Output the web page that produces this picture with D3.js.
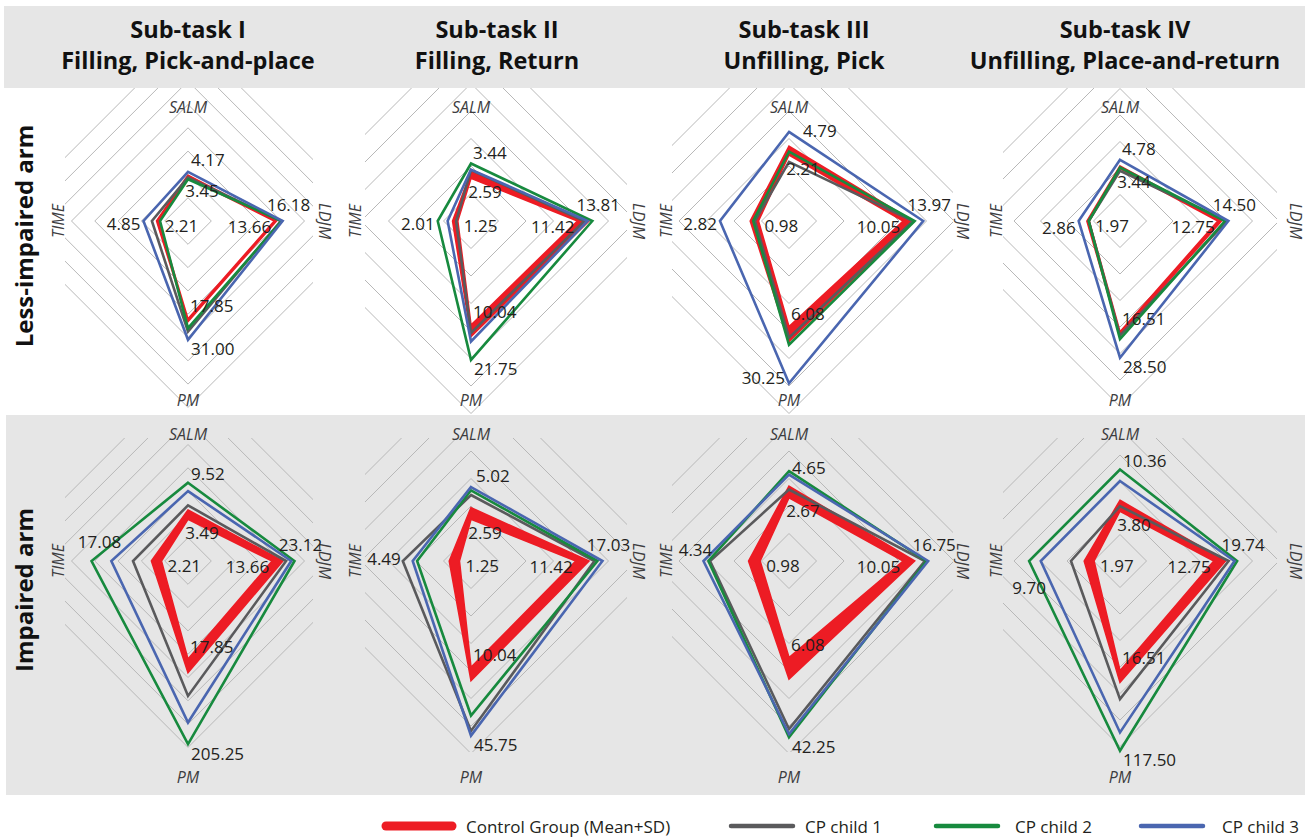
<!DOCTYPE html>
<html>
<head>
<meta charset="utf-8">
<script src="https://cdn.jsdelivr.net/npm/d3@7"></script>
<style>
  html, body { margin: 0; padding: 0; background: #fff; }
  svg { display: block; font-family: "Open Sans", "Noto Sans", sans-serif; }
</style>
</head>
<body>
<svg id="chart" width="1310" height="839"></svg>
<script>
// Axes of every radar, clockwise from the top
const AXES = ["SALM", "LDJM", "PM", "TIME"];

const SUBTASKS = [
    ["Sub-task I", "Filling, Pick-and-place"],
    ["Sub-task II", "Filling, Return"],
    ["Sub-task III", "Unfilling, Pick"],
    ["Sub-task IV", "Unfilling, Place-and-return"]
];
const ARMS = ["Less-impaired arm", "Impaired arm"];

// Normalised scores (grid rings) per panel, row-major:
// less-impaired I..IV, then impaired I..IV. Each row is [SALM, LDJM, PM, TIME].
const controlMean = [
    [1.86, 3.70, 4.20, 1.26],
    [1.55, 3.87, 3.78, 0.48],
    [2.40, 4.15, 3.84, 1.11],
    [1.98, 3.69, 4.18, 1.16],
    [1.79, 3.61, 4.21, 1.14],
    [1.52, 3.81, 3.87, 0.42],
    [2.30, 4.15, 3.51, 1.05],
    [1.88, 3.54, 4.14, 0.98]
];
const controlMeanSD = [
    [1.97, 3.80, 4.32, 1.35],
    [1.79, 4.29, 4.20, 0.67],
    [2.72, 4.51, 4.38, 1.41],
    [2.08, 3.83, 4.33, 1.25],
    [2.19, 4.07, 4.79, 1.57],
    [1.94, 4.29, 4.35, 0.79],
    [2.72, 4.57, 4.29, 1.47],
    [2.29, 3.98, 4.58, 1.35]
];
const cpChild1 = [
    [1.87, 3.98, 4.75, 1.55],
    [1.85, 4.12, 4.07, 0.54],
    [2.15, 4.51, 4.24, 1.24],
    [1.89, 4.03, 4.33, 1.18],
    [2.39, 4.21, 5.79, 2.36],
    [2.40, 4.49, 6.18, 2.48],
    [2.60, 4.94, 6.11, 2.87],
    [2.07, 4.10, 5.21, 1.85]
];
const cpChild2 = [
    [1.79, 4.02, 4.60, 1.20],
    [2.09, 4.41, 5.05, 1.21],
    [2.52, 4.57, 4.50, 1.30],
    [2.02, 3.96, 4.46, 1.18],
    [3.36, 4.57, 7.86, 4.14],
    [2.57, 4.60, 5.62, 1.96],
    [3.27, 5.00, 6.41, 2.93],
    [3.45, 4.42, 7.16, 3.43]
];
const cpChild3 = [
    [2.11, 4.06, 5.10, 1.91],
    [1.87, 4.24, 4.38, 0.85],
    [3.24, 4.88, 5.90, 2.51],
    [2.31, 4.09, 5.16, 1.56],
    [3.00, 4.43, 6.93, 3.29],
    [2.69, 4.78, 6.35, 2.12],
    [3.14, 5.06, 6.29, 3.11],
    [3.02, 4.32, 6.47, 2.99]
];

// Printed values: inner = control group value, outer = maximum
const innerLabels = [
    ["3.45", "13.66", "17.85", "2.21"],
    ["2.59", "11.42", "10.04", "1.25"],
    ["2.21", "10.05", "6.08", "0.98"],
    ["3.44", "12.75", "16.51", "1.97"],
    ["3.49", "13.66", "17.85", "2.21"],
    ["2.59", "11.42", "10.04", "1.25"],
    ["2.67", "10.05", "6.08", "0.98"],
    ["3.80", "12.75", "16.51", "1.97"]
];
const outerLabels = [
    ["4.17", "16.18", "31.00", "4.85"],
    ["3.44", "13.81", "21.75", "2.01"],
    ["4.79", "13.97", "30.25", "2.82"],
    ["4.78", "14.50", "28.50", "2.86"],
    ["9.52", "23.12", "205.25", "17.08"],
    ["5.02", "17.03", "45.75", "4.49"],
    ["4.65", "16.75", "42.25", "4.34"],
    ["10.36", "19.74", "117.50", "9.70"]
];

const LEGEND = ["Control Group (Mean+SD)", "CP child 1", "CP child 2", "CP child 3"];

// ---- layout ----
const RED = "#ed1c24";
const CP_SERIES = [
    { values: cpChild1, color: "#5a5a5c" },
    { values: cpChild2, color: "#178a3e" },
    { values: cpChild3, color: "#4a66b0" }
];
const COL_X = [188, 471, 789, 1120];
const ROW_Y = [221, 561];
const RING_STEP = [23.3, 27.5, 27.5, 26.5];
const RING_COUNT = [8, 7, 7, 7];
const COL_CLIP = [[65, 313], [365, 627], [672, 953], [1003, 1277]];
const ROW_CLIP = [[88, 414], [438, 752]];
const TIME_DX = [-130, -116, -123, -124];
const LDJM_DX = [137, 168, 174, 176];
const SALM_DY = [-114, -127];
const PM_DY = [179, 216];
const TITLE_X = [188, 497, 804, 1125];
const SALM_OUTER_DX = [3, 2, 14, 2, 3, 5, 3, 3];
const SALM_OUTER_DY = [-12, -11, -1, -11, -9, -12, -4, -9];
const PM_OUTER_SIDE = ["right", "right", "left", "right", "right", "right", "right", "right"];
// [anchor, dx from vertex, dy from centre] for the outer TIME label
const TIME_OUTER = [
    ["end", -3, 2], ["end", -3, 2], ["end", -3, 2], ["end", -3, 6],
    ["middle", 8, -20], ["end", -2, -3], ["middle", -8, -12], ["middle", 0, 26]
];

const svg = d3.select("#chart");
const defs = svg.append("defs");

function vertex(scale, axisIdx, value) {
    const a = axisIdx * Math.PI / 2;
    return [scale(value) * Math.sin(a), -scale(value) * Math.cos(a)];
}

function addText(g, x, y, text, anchor, cls) {
    return g.append("text")
        .attr("x", x)
        .attr("y", y)
        .attr("text-anchor", anchor)
        .attr("dominant-baseline", "central")
        .attr("class", cls)
        .text(text);
}

function drawPanel(layer, row, col) {
    const p = row * 4 + col;
    const cx = COL_X[col];
    const cy = ROW_Y[row];
    const rScale = d3.scaleLinear().domain([0, 1]).range([0, RING_STEP[col]]);
    const radial = d3.lineRadial()
        .angle((_d, i) => i * Math.PI / 2)
        .radius(d => rScale(d))
        .curve(d3.curveLinearClosed);

    const g = layer.append("g").attr("transform", `translate(${cx},${cy})`);

    // Grid rings, clipped to the panel box
    const clipId = `clip-${p}`;
    defs.append("clipPath").attr("id", clipId)
        .append("rect")
        .attr("x", COL_CLIP[col][0] - cx)
        .attr("y", ROW_CLIP[row][0] - cy)
        .attr("width", COL_CLIP[col][1] - COL_CLIP[col][0])
        .attr("height", ROW_CLIP[row][1] - ROW_CLIP[row][0]);

    g.append("g")
        .attr("clip-path", `url(#${clipId})`)
        .selectAll("path")
        .data(d3.range(1, RING_COUNT[col] + 1).map(k => AXES.map(() => k)))
        .join("path")
        .attr("d", radial)
        .attr("fill", "none")
        .attr("stroke", "#b8b8b8")
        .attr("stroke-width", 1);

    // Control group band between mean and mean+SD
    g.append("path")
        .attr("d", radial(controlMeanSD[p]) + radial(controlMean[p]))
        .attr("fill", RED)
        .attr("fill-rule", "evenodd")
        .attr("stroke", RED)
        .attr("stroke-width", 1.6);

    // CP children
    g.selectAll("path.cp")
        .data(CP_SERIES)
        .join("path")
        .attr("class", "cp")
        .attr("d", s => radial(s.values[p]))
        .attr("fill", "none")
        .attr("stroke", s => s.color)
        .attr("stroke-width", 2.6);

    // Axis names
    addText(g, 0, SALM_DY[row], AXES[0], "middle", "axis");
    addText(g, 0, PM_DY[row], AXES[2], "middle", "axis");
    addText(g, 0, 0, AXES[3], "middle", "axis")
        .attr("transform", `translate(${TIME_DX[col]},0) rotate(-90)`);
    addText(g, 0, 0, AXES[1], "middle", "axis")
        .attr("transform", `translate(${LDJM_DX[col]},0) rotate(90)`);

    // Inner value labels (control group)
    const mean = controlMean[p];
    const inn = innerLabels[p];
    let v = vertex(rScale, 0, mean[0]);
    addText(g, 14, v[1] + 13, inn[0], "middle", "val");
    v = vertex(rScale, 1, mean[1]);
    addText(g, v[0] - 3, 5, inn[1], "end", "val");
    v = vertex(rScale, 2, mean[2]);
    addText(g, 2, v[1] - 13, inn[2], "start", "val");
    v = vertex(rScale, 3, mean[3]);
    addText(g, v[0] + 6, 4, inn[3], "start", "val");

    // Outer value labels at the largest vertex of each axis
    const all = [controlMeanSD[p], ...CP_SERIES.map(s => s.values[p])];
    const maxOf = i => d3.max(all, s => s[i]);
    const out = outerLabels[p];
    v = vertex(rScale, 0, maxOf(0));
    addText(g, SALM_OUTER_DX[p], v[1] + SALM_OUTER_DY[p], out[0], "start", "val");
    v = vertex(rScale, 1, maxOf(1));
    addText(g, v[0] + 6, -17, out[1], "middle", "val");
    v = vertex(rScale, 2, maxOf(2));
    if (PM_OUTER_SIDE[p] === "left") {
        addText(g, -4, v[1] - 6, out[2], "end", "val");
    } else {
        addText(g, 3, v[1] + 9, out[2], "start", "val");
    }
    v = vertex(rScale, 3, maxOf(3));
    const [tAnchor, tdx, tdy] = TIME_OUTER[p];
    addText(g, v[0] + tdx, tdy, out[3], tAnchor, "val");
}

svg.append("style").text(`
    .axis { font-size: 16px; font-style: italic; fill: #3d3d3f; }
    .val { font-size: 17px; fill: #231f20; }
    .title { font-size: 23.5px; font-weight: 700; fill: #111; }
    .arm { font-size: 24px; font-weight: 700; fill: #111; }
    .legend { font-size: 17px; fill: #231f20; }
`);

// Row 1 panels
const row1 = svg.append("g");
d3.range(4).forEach(c => drawPanel(row1, 0, c));

// Row 2 background and panels
svg.append("rect")
    .attr("x", 6).attr("y", 415)
    .attr("width", 1299).attr("height", 380)
    .attr("fill", "#e6e6e6");
const row2 = svg.append("g");
d3.range(4).forEach(c => drawPanel(row2, 1, c));

// Header band with the sub-task titles
svg.append("rect")
    .attr("x", 4).attr("y", 6)
    .attr("width", 1301).attr("height", 82)
    .attr("fill", "#e6e6e6");

svg.selectAll("text.t1")
    .data(SUBTASKS)
    .join("text")
    .attr("class", "title t1")
    .attr("x", (_d, i) => TITLE_X[i])
    .attr("y", 38)
    .attr("text-anchor", "middle")
    .text(d => d[0]);

svg.selectAll("text.t2")
    .data(SUBTASKS)
    .join("text")
    .attr("class", "title t2")
    .attr("x", (_d, i) => TITLE_X[i])
    .attr("y", 69)
    .attr("text-anchor", "middle")
    .text(d => d[1]);

// Row labels
const ARM_Y = [236, 590];
svg.selectAll("text.arm")
    .data(ARMS)
    .join("text")
    .attr("class", "arm")
    .attr("text-anchor", "middle")
    .attr("transform", (_d, i) => `translate(33,${ARM_Y[i]}) rotate(-90)`)
    .text(d => d);

// Legend
const LEGEND_LINE_X = [386, 731, 936, 1141];
const LEGEND_TEXT_X = [466, 805, 1015, 1222];
const legendColors = [RED, ...CP_SERIES.map(s => s.color)];
const legend = svg.append("g").attr("transform", "translate(0,826)");
legend.selectAll("line")
    .data(LEGEND)
    .join("line")
    .attr("x1", (_d, i) => LEGEND_LINE_X[i])
    .attr("x2", (_d, i) => LEGEND_LINE_X[i] + (i === 0 ? 66 : 62))
    .attr("stroke", (_d, i) => legendColors[i])
    .attr("stroke-width", (_d, i) => i === 0 ? 9 : 4.5)
    .attr("stroke-linecap", "round");
legend.selectAll("text")
    .data(LEGEND)
    .join("text")
    .attr("class", "legend")
    .attr("x", (_d, i) => LEGEND_TEXT_X[i])
    .attr("dominant-baseline", "central")
    .text(d => d);
</script>
</body>
</html>
